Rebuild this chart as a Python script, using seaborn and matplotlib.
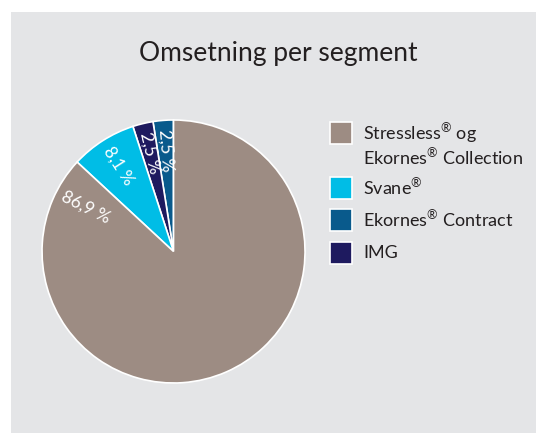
import numpy as np
import seaborn as sns
import matplotlib.pyplot as plt
from matplotlib.patches import Rectangle

# legend order
segments = ['Stressless$^{®}$ og\nEkornes$^{®}$ Collection', 'Svane$^{®}$',
            'Ekornes$^{®}$ Contract', 'IMG']
shares = [86.9, 8.1, 2.5, 2.5]
seg_colors = ['#9d8c83', '#00bde6', '#095a8c', '#1e1a5f']

# pie order, counter-clockwise from 12 o'clock
pie_order = [2, 3, 1, 0]

sns.set_style('white')
plt.rcParams['font.family'] = ['Lato', 'DejaVu Sans']
plt.rcParams['mathtext.fontset'] = 'custom'
plt.rcParams['mathtext.rm'] = 'Lato'
plt.rcParams['mathtext.it'] = 'Lato'
plt.rcParams['mathtext.default'] = 'rm'

fig = plt.figure(figsize=(5.36, 4.33), dpi=100)
fig.patch.set_facecolor('white')
fig.patches.append(Rectangle((11 / 536, 0), 1, 421 / 433, transform=fig.transFigure,
                             facecolor='#e4e5e7', edgecolor='none', zorder=-5))

fig.text(278 / 536, 1 - 53 / 433, 'Omsetning per segment', ha='center', va='center',
         fontsize=19, color='#231f20')

ax = fig.add_axes([0.0784, 0.1155, 0.4907, 0.6074])
ax.set_facecolor('none')
vals = [shares[i] for i in pie_order]
cols = [seg_colors[i] for i in pie_order]
wedges, _ = ax.pie(vals, colors=cols, startangle=90, counterclock=True,
                   wedgeprops=dict(edgecolor='white', linewidth=1.2))
ax.set_xlim(-1, 1)
ax.set_ylim(-1, 1)
ax.set_aspect('equal')
ax.axis('off')

for w, v in zip(wedges, vals):
    span = w.theta2 - w.theta1
    if span < 60:
        ang, r = (w.theta1 + w.theta2) / 2, 0.77
    else:
        ang, r = w.theta1 + 16, 0.745
    x, y = r * np.cos(np.radians(ang)), r * np.sin(np.radians(ang))
    txt = f'{v:.1f}'.replace('.', ',') + ' %'
    ax.text(x, y, txt, ha='center', va='center', rotation=ang - 180,
            rotation_mode='anchor', color='white', fontsize=12.5)

# legend
box = 22
row_y = [122, 177, 209, 242]
for lab, c, y0 in zip(segments, seg_colors, row_y):
    fig.patches.append(Rectangle((330 / 536, 1 - (y0 + box) / 433), box / 536, box / 433,
                                 transform=fig.transFigure, facecolor=c,
                                 edgecolor='white', linewidth=1.2, zorder=2))
    lines = lab.split('\n')
    for k, line in enumerate(lines):
        fig.text(363 / 536, 1 - (y0 + box / 2 + 25 * k) / 433, line, ha='left',
                 va='center', fontsize=13, color='#231f20')

fig.savefig('out.png', dpi=100)
